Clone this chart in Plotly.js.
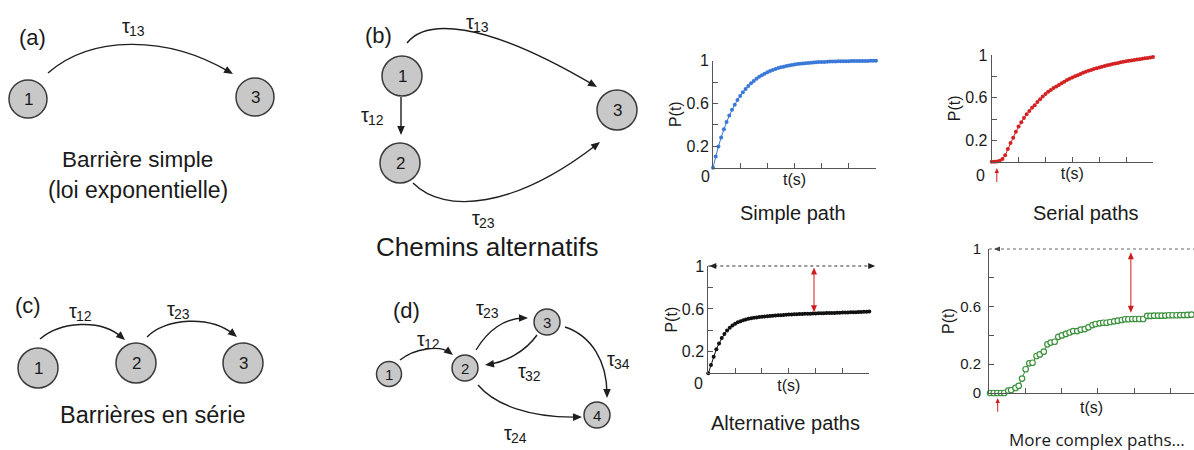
<!DOCTYPE html>
<html><head><meta charset="utf-8">
<script src="https://cdn.plot.ly/plotly-3.0.1.min.js"></script>
<style>html,body{margin:0;padding:0;background:#fff}#chart{width:1194px;height:450px}</style>
</head><body><div id="chart"></div>
<script>
// ---------- data ----------
const t = [0,0.1,0.2,0.3,0.4,0.5,0.6,0.7,0.8,0.9,
  1.0,1.1,1.2,1.3,1.4,1.5,1.6,1.7,1.8,1.9,
  2.0,2.1,2.2,2.3,2.4,2.5,2.6,2.7,2.8,2.9,
  3.0,3.1,3.2,3.3,3.4,3.5,3.6,3.7,3.8,3.9,
  4.0,4.1,4.2,4.3,4.4,4.5,4.6,4.7,4.8,4.9,
  5.0,5.1,5.2,5.3,5.4,5.5,5.6,5.7,5.8,5.9,6.0];
const pSimple = [0,0.105,0.199,0.283,0.359,0.426,0.487,0.541,0.589,0.632,
  0.671,0.705,0.736,0.764,0.789,0.811,0.831,0.849,0.865,0.879,
  0.892,0.903,0.913,0.922,0.931,0.938,0.944,0.950,0.955,0.960,
  0.964,0.968,0.971,0.974,0.977,0.979,0.982,0.984,0.985,0.987,
  0.988,0.989,0.991,0.992,0.992,0.993,0.994,0.995,0.995,0.996,
  0.996,0.997,0.997,0.997,0.998,0.998,0.998,0.998,0.999,0.999,0.999];
const pSerial = [0,0,0.003,0.01,0.025,0.06,0.12,0.175,0.225,0.28,
  0.33,0.37,0.41,0.445,0.475,0.505,0.53,0.56,0.585,0.61,
  0.635,0.655,0.672,0.69,0.705,0.72,0.735,0.75,0.765,0.778,
  0.79,0.80,0.811,0.822,0.833,0.843,0.852,0.86,0.868,0.876,
  0.884,0.891,0.897,0.903,0.909,0.915,0.921,0.926,0.931,0.936,
  0.941,0.945,0.949,0.953,0.957,0.961,0.965,0.969,0.973,0.977,0.981];
const pAlternative = [0,0.078,0.155,0.225,0.278,0.33,0.366,0.398,0.425,0.446,
  0.462,0.475,0.486,0.494,0.502,0.508,0.514,0.518,0.521,0.525,
  0.528,0.53,0.532,0.534,0.536,0.538,0.54,0.542,0.544,0.546,
  0.548,0.549,0.55,0.551,0.552,0.553,0.554,0.555,0.556,0.557,
  0.558,0.559,0.559,0.56,0.561,0.562,0.562,0.563,0.564,0.565,
  0.566,0.567,0.567,0.568,0.569,0.57,0.571,0.572,0.573,0.574,0.575];
const tComplex = [0.03,0.13,0.23,0.33,0.42,0.53,0.61,0.73,0.82,0.91,
  1.01,1.11,1.20,1.31,1.40,1.51,1.61,1.70,1.81,1.91,
  2.01,2.12,2.22,2.32,2.43,2.53,2.64,2.74,2.85,2.94,
  3.05,3.15,3.24,3.34,3.45,3.55,3.66,3.75,3.84,3.95,
  4.04,4.14,4.25,4.36,4.45,4.55,4.66,4.76,4.86,4.96,
  5.06,5.17,5.27,5.37,5.47,5.58];
const pComplex = [0,0,0,0,0,0.016,0.02,0.035,0.05,0.10,
  0.165,0.206,0.21,0.257,0.268,0.287,0.338,0.35,0.356,0.39,
  0.40,0.41,0.42,0.43,0.43,0.44,0.444,0.456,0.472,0.479,
  0.484,0.488,0.488,0.493,0.498,0.502,0.507,0.512,0.512,0.514,
  0.514,0.514,0.514,0.535,0.535,0.537,0.537,0.537,0.538,0.54,
  0.54,0.54,0.541,0.541,0.542,0.544];
const xTickVals = [0,1,2,3,4,5,6];
const yTickVals = [0.2,0.6,1];
const yTickText = ['0.2','0.6','1'];
const yTickValsComplex = [0,0.2,0.6,1];
const yTickTextComplex = ['0','0.2','0.6','1'];
const panelTitles = ['Simple path','Serial paths','Alternative paths','More complex paths…'];
const plateauGap = {alternative:[3.94,0.987,0.569], complex:[3.91,0.977,0.558]};
const onsetArrow = {serial:[0.19,-0.06,-0.19], complex:[0.24,-0.035,-0.13]};

// ---------- helpers ----------
const W = 1194, H = 450;
const FONT = 'Liberation Sans, Arial, sans-serif';
const shapes = [], annotations = [];
const dx = (a,b)=>[a/W,b/W];
const dy = (top,bottom)=>[1-bottom/H,1-top/H];
function txt(x,y,text,size,extra){annotations.push(Object.assign({xref:'x5',yref:'y5',x:x,y:y,text:text,showarrow:false,font:{size:size,color:'#1a1a1a',family:FONT}},extra||{}));}
function head(tip,from,color,len,half){
  const ux=tip[0]-from[0], uy=tip[1]-from[1], L=Math.hypot(ux,uy), ex=ux/L, ey=uy/L;
  const bx=tip[0]-ex*len, by=tip[1]-ey*len;
  const p1=[bx-ey*half,by+ex*half], p2=[bx+ey*half,by-ex*half];
  shapes.push({type:'path',xref:'x5',yref:'y5',path:'M'+tip[0]+','+tip[1]+' L'+p1[0]+','+p1[1]+' L'+p2[0]+','+p2[1]+' Z',fillcolor:color,line:{width:0}});
}
function node(cx,cy,r,label,fs){
  shapes.push({type:'circle',xref:'x5',yref:'y5',x0:cx-r,x1:cx+r,y0:cy-r,y1:cy+r,fillcolor:'#c8c8c8',line:{color:'#3a3a3a',width:1.5}});
  txt(cx,cy+0.5,label,fs);
}
function arrowCurve(p0,c1,c2,p3){
  const ux=p3[0]-c2[0], uy=p3[1]-c2[1], L=Math.hypot(ux,uy);
  const end=[p3[0]-ux/L*4,p3[1]-uy/L*4];
  shapes.push({type:'path',xref:'x5',yref:'y5',path:'M'+p0[0]+','+p0[1]+' C'+c1[0]+','+c1[1]+' '+c2[0]+','+c2[1]+' '+end[0]+','+end[1],line:{color:'#1e1e1e',width:1.4}});
  head(p3,c2,'#1e1e1e',9,3.8);
}
// rate label: tau with a lowered, smaller index drawn as its own text
function tau(x,y,idx){
  txt(x-7,y,'τ',20);
  txt(x-6,y+5,idx,14,{xanchor:'left'});
}

// ---------- diagram (a) ----------
txt(32,37,'(a)',22);
node(28,99,19,'1',17); node(255,97,19,'3',17);
arrowCurve([48,73],[90,36],[165,34],[233,74]);
tau(133,26,'13');
txt(137,159,'Barrière simple',22.5);
txt(138,190,'(loi exponentielle)',23);

// ---------- diagram (b) ----------
txt(378,35,'(b)',22);
node(402,76,20,'1',17); node(400,163,20,'2',17); node(617,110,20,'3',17);
arrowCurve([407,43],[425,20],[480,18],[597,87]);
arrowCurve([401,97],[401,110],[401,122],[401,135]);
arrowCurve([413,183],[445,215],[515,208],[600,142]);
tau(477,22,'13');
tau(372,115,'12');
tau(483,218,'23');
txt(487,247,'Chemins alternatifs',26);

// ---------- diagram (c) ----------
txt(28,305,'(c)',22);
node(38,368,20,'1',17); node(136,363,20,'2',17); node(243,363,20,'3',17);
arrowCurve([40,339],[60,322],[100,318],[125,340]);
arrowCurve([147,337],[165,318],[210,315],[237,337]);
tau(80,311,'12');
tau(178,309,'23');
txt(152,415,'Barrières en série',23.5);

// ---------- diagram (d) ----------
txt(406,310,'(d)',22);
node(389,374,12.5,'1',15); node(465,368,13,'2',15); node(547,322,13,'3',15); node(597,415,13,'4',15);
arrowCurve([400,360],[415,348],[440,345],[453,355]);
arrowCurve([476,350],[488,330],[505,318],[528,318]);
arrowCurve([537,335],[525,352],[505,362],[485,365]);
arrowCurve([565,327],[592,336],[607,362],[607,398]);
arrowCurve([478,385],[495,405],[530,418],[582,417]);
tau(428,339,'12');
tau(487,308,'23');
tau(529,371,'32');
tau(618,359,'34');
tau(515,433,'24');

// ---------- plots ----------
const axBase = {showline:true,linecolor:'#555',linewidth:1,ticks:'inside',ticklen:5,tickcolor:'#555',tickwidth:1,
  showgrid:false,zeroline:false,fixedrange:true,automargin:false};
function xAx(dom,range,yid,standoff){return Object.assign({},axBase,{domain:dom,range:range,anchor:yid,tickmode:'array',tickvals:xTickVals,showticklabels:false,
  title:{text:'t(s)',font:{size:16,family:FONT,color:'#1a1a1a'},standoff:standoff}});}
function yAx(dom,xid,vals,ticktext,fs,standoff,lblstand){return Object.assign({},axBase,{domain:dom,range:[0,1],anchor:xid,tickmode:'array',tickvals:vals,ticktext:ticktext,
  minor:{tick0:0,dtick:0.2,ticks:'inside',ticklen:5,tickcolor:'#555',tickwidth:1,showgrid:false},
  tickfont:{size:fs,family:FONT,color:'#1a1a1a'},ticklabelstandoff:lblstand,
  title:{text:'P(t)',font:{size:16,family:FONT,color:'#1a1a1a'},standoff:standoff}});}

const layout = {
  width:W,height:H,margin:{l:0,r:0,t:0,b:0},paper_bgcolor:'#fff',plot_bgcolor:'rgba(0,0,0,0)',showlegend:false,
  font:{family:FONT,color:'#1a1a1a'},
  xaxis: xAx(dx(713,876),[0,6],'y',6),
  yaxis: yAx(dy(60.7,167.7),'x',yTickVals,yTickText,16,0,0),
  xaxis2: xAx(dx(991.7,1153),[0,6],'y2',6),
  yaxis2: yAx(dy(55,161.7),'x2',yTickVals,yTickText,16,0,0),
  xaxis3: xAx(dx(708.3,869.3),[0,6],'y3',6),
  yaxis3: yAx(dy(266,373.3),'x3',yTickVals,yTickText,16,0,0),
  xaxis4: xAx(dx(989,1194),[0,5.65],'y4',8),
  yaxis4: yAx(dy(249,393),'x4',yTickValsComplex,yTickTextComplex,15,1,4),
  xaxis5: {domain:[0,1],range:[0,W],visible:false,fixedrange:true,anchor:'y5'},
  yaxis5: {domain:[0,1],range:[H,0],visible:false,fixedrange:true,anchor:'x5'},
  shapes:shapes, annotations:annotations
};

// data -> pixel mapping through the axes defined above (for reference lines / arrows)
function toPx(xa,ya,x,y){
  const X=layout[xa], Y=layout[ya];
  const px = (X.domain[0] + (x-X.range[0])/(X.range[1]-X.range[0])*(X.domain[1]-X.domain[0]))*W;
  const py = (1-(Y.domain[0] + (y-Y.range[0])/(Y.range[1]-Y.range[0])*(Y.domain[1]-Y.domain[0])))*H;
  return [px,py];
}

// zero labels placed off the corner, as in the reference
txt(705,176.7,'0',16); txt(980,175,'0',16); txt(698,383,'0',16);
// panel captions
txt(793,213,panelTitles[0],20);
txt(1086,213,panelTitles[1],20);
txt(785,423,panelTitles[2],20);
txt(1097,439,panelTitles[3],17,{font:{size:17,family:'Open Sans, sans-serif',color:'#1a1a1a'}});

// dotted asymptote lines (P = 1) with arrowheads
(function(){
  const a=toPx('xaxis3','yaxis3',0,1), b=toPx('xaxis3','yaxis3',6.22,1);
  shapes.push({type:'line',xref:'x5',yref:'y5',x0:a[0],x1:b[0],y0:a[1],y1:a[1],line:{color:'#333',width:1,dash:'dot'}});
  head([a[0]+1,a[1]],[a[0]+10,a[1]],'#222',7,3); head(b,[b[0]-10,b[1]],'#222',7,3);
  const c=toPx('xaxis4','yaxis4',0,1), d=toPx('xaxis4','yaxis4',5.65,1);
  shapes.push({type:'line',xref:'x5',yref:'y5',x0:c[0],x1:d[0],y0:c[1],y1:c[1],line:{color:'#666',width:1,dash:'dot'}});
  head([c[0]+5,c[1]],[c[0]+14,c[1]],'#444',6,2.5);
})();

// red double arrows (gap to 1) and onset arrows
const RED = '#d01c1c';
[['xaxis3','yaxis3',plateauGap.alternative],['xaxis4','yaxis4',plateauGap.complex]].forEach(([xa,ya,g])=>{
  const top=toPx(xa,ya,g[0],g[1]), bot=toPx(xa,ya,g[0],g[2]);
  shapes.push({type:'line',xref:'x5',yref:'y5',x0:top[0],x1:bot[0],y0:top[1]+5,y1:bot[1]-5,line:{color:RED,width:1}});
  head(top,bot,RED,7,3); head(bot,top,RED,7,3);
});
[['xaxis2','yaxis2',onsetArrow.serial],['xaxis4','yaxis4',onsetArrow.complex]].forEach(([xa,ya,g])=>{
  const tip=toPx(xa,ya,g[0],g[1]), tail=toPx(xa,ya,g[0],g[2]);
  shapes.push({type:'line',xref:'x5',yref:'y5',x0:tail[0],x1:tip[0],y0:tail[1],y1:tip[1]+4,line:{color:RED,width:1}});
  head(tip,tail,RED,5,2.2);
});

const data = [
  {x:t,y:pSimple,xaxis:'x',yaxis:'y',type:'scatter',mode:'lines+markers',name:panelTitles[0],cliponaxis:false,
   marker:{size:4,color:'#3b78d8'},line:{width:1,color:'#3b78d8'}},
  {x:t,y:pSerial,xaxis:'x2',yaxis:'y2',type:'scatter',mode:'lines+markers',name:panelTitles[1],cliponaxis:false,
   marker:{size:4,color:'#d42222'},line:{width:1,color:'#d42222'}},
  {x:t,y:pAlternative,xaxis:'x3',yaxis:'y3',type:'scatter',mode:'lines+markers',name:panelTitles[2],cliponaxis:false,
   marker:{size:4,color:'#111'},line:{width:1,color:'#111'}},
  {x:tComplex,y:pComplex,xaxis:'x4',yaxis:'y4',type:'scatter',mode:'lines+markers',name:panelTitles[3],cliponaxis:false,
   marker:{size:5.5,color:'#fff',line:{color:'#3c923c',width:1.2}},line:{width:1,color:'#3c923c'}},
  {x:[],y:[],xaxis:'x5',yaxis:'y5',type:'scatter',hoverinfo:'skip',showlegend:false}
];

Plotly.newPlot('chart',data,layout,{staticPlot:true,displayModeBar:false}).then(function(gd){
  gd.querySelectorAll('text').forEach(function(el){ if(!el.textContent.replace(/[\s\u200b]/g,'')) el.remove(); });
});
</script>
</body></html>
